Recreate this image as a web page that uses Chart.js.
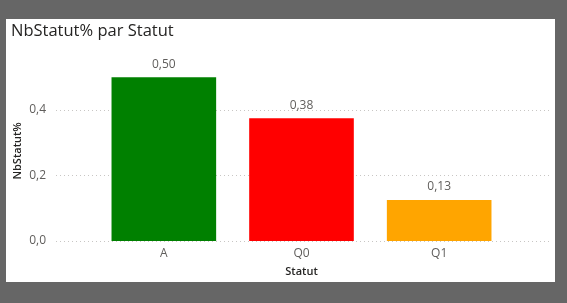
<!DOCTYPE html>
<html><head><meta charset="utf-8">
<script src="https://cdn.jsdelivr.net/npm/chart.js@4"></script>
<style>
html,body{margin:0;padding:0;background:#666666;width:567px;height:303px;overflow:hidden}
#panel{position:absolute;left:6px;top:19px;width:549px;height:263px;background:#ffffff}
#wrap{position:absolute;left:0;top:0;width:567px;height:303px}
</style></head><body>
<div id="panel"></div>
<div id="wrap"><canvas id="c" width="567" height="303"></canvas></div>
<script>
const categories = ['A', 'Q0', 'Q1'];
const values = [0.5, 0.375, 0.125];
const barColors = ['#008000', '#FF0000', '#FFA500'];
const yTicks = [0, 0.2, 0.4];
const titleText = 'NbStatut% par Statut';
const xTitle = 'Statut';
const yTitle = 'NbStatut%';

const fmt = v => v.toFixed(2).replace('.', ',');
const FONT = "'Open Sans', 'Segoe UI', sans-serif";

const gridPlugin = {
  id: 'dotGrid',
  beforeDatasetsDraw(chart) {
    const ctx = chart.ctx, y = chart.scales.y;
    ctx.save();
    ctx.strokeStyle = '#C8C6C4';
    ctx.lineWidth = 1;
    ctx.setLineDash([1, 3]);
    yTicks.forEach(t => {
      const py = Math.round(y.getPixelForValue(t)) + 0.5;
      ctx.beginPath(); ctx.moveTo(56, py); ctx.lineTo(551, py); ctx.stroke();
    });
    ctx.restore();
  }
};
const labelPlugin = {
  id: 'valLabels',
  afterDatasetsDraw(chart) {
    const ctx = chart.ctx;
    const meta = chart.getDatasetMeta(0);
    ctx.save();
    ctx.font = "12px " + FONT;
    ctx.fillStyle = '#605E5C';
    ctx.textAlign = 'center';
    ctx.textBaseline = 'middle';
    meta.data.forEach((bar, i) => {
      ctx.fillText(fmt(values[i]), bar.x, bar.y - 13);
    });
    ctx.restore();
  }
};

new Chart(document.getElementById('c'), {
  type: 'bar',
  data: {
    labels: categories,
    datasets: [{ data: values, backgroundColor: barColors, borderWidth: 0,
      categoryPercentage: 1.0, barPercentage: 0.76 }]
  },
  options: {
    responsive: false,
    animation: false,
    layout: { padding: { left: 11, right: 59, top: 0, bottom: 25 } },
    plugins: {
      legend: { display: false },
      tooltip: { enabled: false },
      title: { display: true, text: titleText, align: 'start', color: '#252423',
        font: { family: FONT, size: 16.5, weight: 'normal' },
        padding: { top: 21, bottom: 20 } }
    },
    scales: {
      x: {
        grid: { display: false, drawTicks: false },
        border: { display: false },
        ticks: { color: '#605E5C', font: { family: FONT, size: 12 }, padding: 5 },
        title: { display: true, text: xTitle, color: '#252423',
          font: { family: FONT, size: 11, weight: '600' }, padding: { top: 0, bottom: 0 } },
        afterFit(s) { s.height = 37; }
      },
      y: {
        min: 0, max: 0.55,
        grid: { display: false, drawTicks: false },
        border: { display: false },
        afterBuildTicks(s) { s.ticks = yTicks.map(v => ({ value: v })); },
        ticks: { color: '#605E5C', font: { family: FONT, size: 12 }, padding: 49,
          callback: v => v.toFixed(1).replace('.', ',') },
        title: { display: true, text: yTitle, color: '#252423',
          font: { family: FONT, size: 11, weight: '600' }, padding: 0 },
        afterFit(s) { s.width = 84; }
      }
    }
  },
  plugins: [gridPlugin, labelPlugin]
});
</script>
</body></html>
